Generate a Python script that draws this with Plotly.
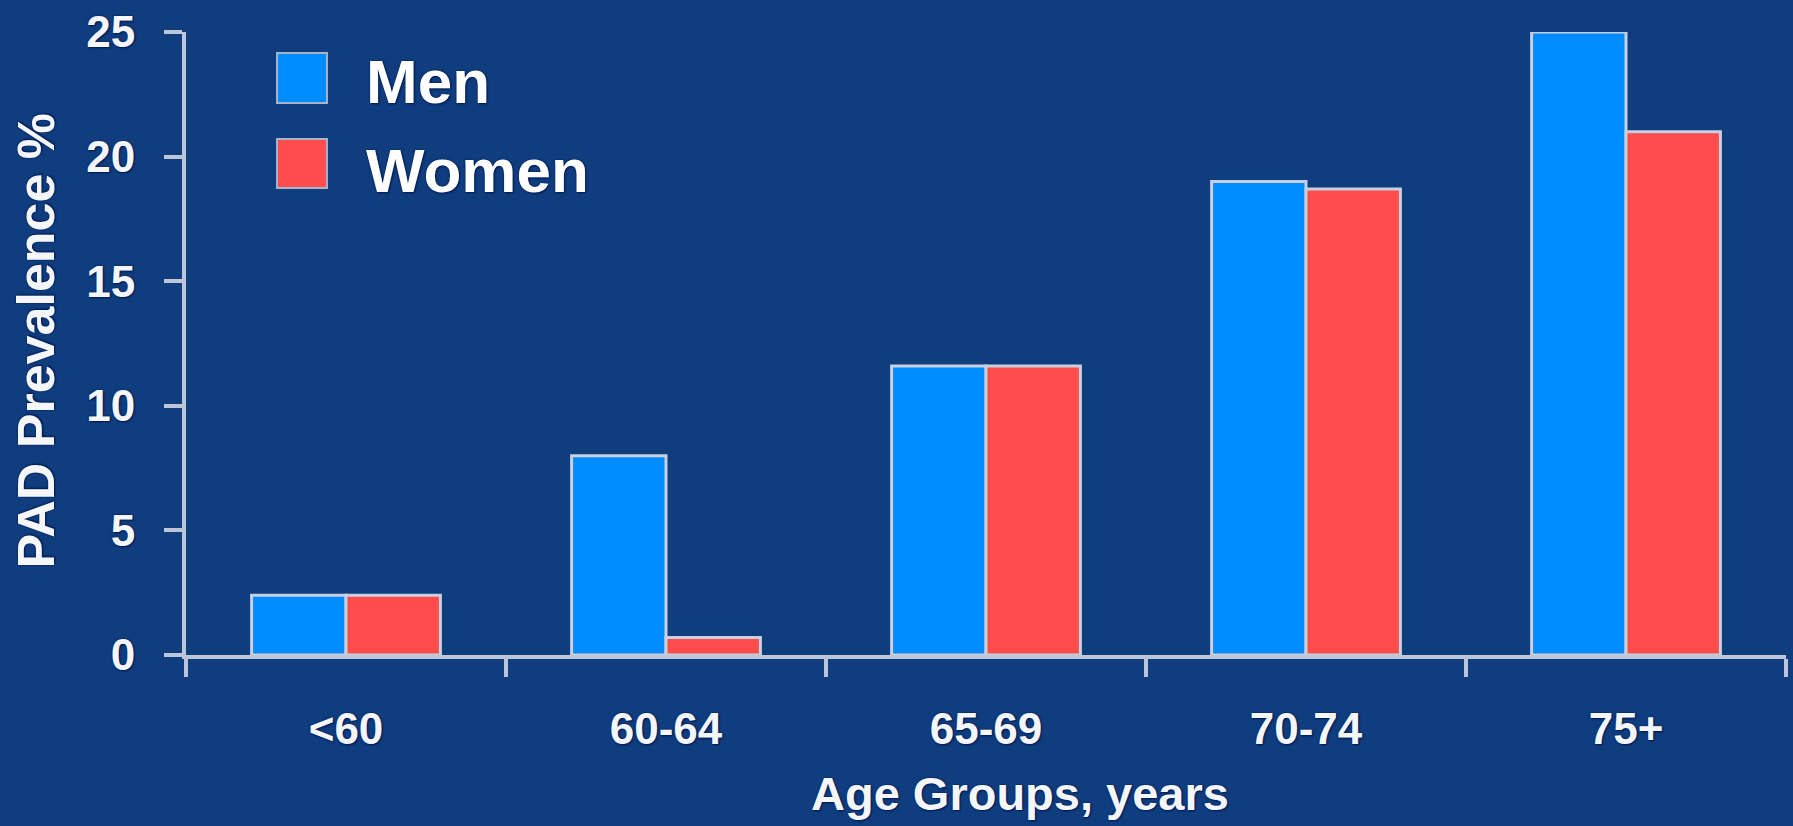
import plotly.graph_objects as go

categories = ["<60", "60-64", "65-69", "70-74", "75+"]
men = [2.4, 8.0, 11.6, 19.0, 25.0]
women = [2.4, 0.7, 11.6, 18.7, 21.0]
y_ticks = [0, 5, 10, 15, 20, 25]
series_names = ["Men", "Women"]
x_title = "Age Groups, years"
y_title = "PAD Prevalence %"

BG = "#0F3D7E"
BLUE = "#008CFF"
RED = "#FF4D4D"
EDGE = "#C8D0E0"
AXIS = "#BCC6D8"
FONT = "Liberation Sans, Arial, sans-serif"
SHADOW = "0px 0px 2px #001A55, 1px 1px 2px #001A55"

fig = go.Figure()
fig.add_trace(go.Bar(x=categories, y=men, name=series_names[0],
                     marker=dict(color=BLUE, line=dict(color=EDGE, width=3))))
fig.add_trace(go.Bar(x=categories, y=women, name=series_names[1],
                     marker=dict(color=RED, line=dict(color=EDGE, width=3))))

tickfont = dict(family=FONT, size=44, color="#F4F6FA", weight="bold", shadow=SHADOW)

fig.update_layout(
    width=1793, height=826,
    margin=dict(l=186, r=7, t=32, b=171),
    paper_bgcolor=BG, plot_bgcolor=BG,
    barmode="group", bargap=0.41, bargroupgap=0,
    showlegend=False,
    xaxis=dict(type="category", range=[-0.5, 4.5], showgrid=False, zeroline=False,
               showline=True, linecolor=AXIS, linewidth=4,
               ticks="outside", tickson="boundaries", ticklen=18, tickwidth=4, tickcolor=AXIS,
               tickfont=tickfont, ticklabelstandoff=32),
    yaxis=dict(range=[0, 25], tickvals=y_ticks, showgrid=False, zeroline=False,
               showline=True, linecolor=AXIS, linewidth=4,
               ticks="outside", ticklen=18, tickwidth=4, tickcolor=AXIS,
               tickfont=tickfont, ticklabelstandoff=20),
)

# titles
fig.add_annotation(text=x_title, xref="paper", yref="paper", x=0.521, y=-0.268,
                   xanchor="center", yanchor="bottom", showarrow=False,
                   font=dict(family=FONT, size=47, color="#F4F6FA", weight="bold", shadow=SHADOW))
fig.add_annotation(text=y_title, xref="paper", yref="paper", x=-0.094, y=0.504,
                   xanchor="center", yanchor="middle", showarrow=False, textangle=-90,
                   font=dict(family=FONT, size=52, color="#F4F6FA", weight="bold", shadow=SHADOW))

# custom legend
legend_items = [(series_names[0], BLUE, 0.9663, 0.8860, 0.921),
                (series_names[1], RED, 0.8283, 0.7496, 0.777)]
for name, col, y0, y1, yt in legend_items:
    fig.add_shape(type="rect", xref="paper", yref="paper", x0=0.0569, x1=0.0881,
                  y0=y1, y1=y0, fillcolor=col, line=dict(color="#A8B4CC", width=2))
    fig.add_annotation(text=name, xref="paper", yref="paper", x=0.1115, y=yt,
                       xanchor="left", yanchor="middle", showarrow=False,
                       font=dict(family=FONT, size=62, color="#FFFFFF", weight="bold", shadow=SHADOW))

fig.write_html("out.html")
